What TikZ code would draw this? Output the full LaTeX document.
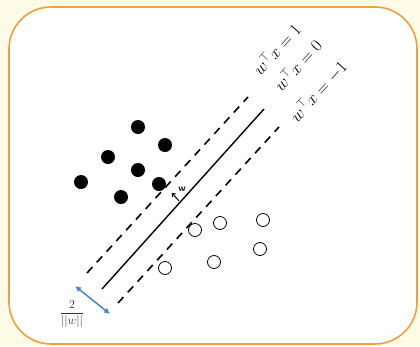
\documentclass[tikz,border=0pt]{standalone}
\usetikzlibrary{arrows.meta}
\definecolor{paper}{HTML}{FEFBE6}
\definecolor{frame}{HTML}{EE9F3E}
\definecolor{marginblue}{HTML}{4F88C6}
\definecolor{labelgray}{HTML}{333333}
\begin{document}
\begin{tikzpicture}[x=1pt,y=-1pt,
  dashline/.style={line width=1.6pt, dash pattern=on 8pt off 6.5pt},
  plane/.style={line width=1.4pt},
  posdot/.style={circle, fill=black, inner sep=0pt, minimum size=14pt},
  negdot/.style={circle, draw=black, line width=0.8pt, fill=white, inner sep=0pt, minimum size=13pt},
  eqlabel/.style={rotate=48, font=\fontsize{16.5}{18}\selectfont, inner sep=0pt}]
% page and framed panel
\fill[paper] (0,0) rectangle (420,346);
\useasboundingbox (0,0) rectangle (420,346);
\draw[frame, line width=1.6pt, fill=white, rounded corners=42pt] (9,7) rectangle (417,344);

% the three parallel hyperplanes
\coordinate (up1) at (87,273);  \coordinate (up2) at (248,97);
\coordinate (mid1) at (102,289); \coordinate (mid2) at (264,109);
\coordinate (lo1) at (118,303); \coordinate (lo2) at (279,127);
\draw[dashline] (up1) -- (up2);
\draw[plane] (mid1) -- (mid2);
\draw[dashline] (lo1) -- (lo2);

% hyperplane equations
\node[eqlabel] (eqa) at (276,49) {$w^\top x = 1$};
\node[eqlabel] (eqb) at (297,65) {$w^\top x = 0$};
\node[eqlabel] (eqc) at (318,91) {$w^\top x = -1$};

% positive class
\node[posdot] (p1) at (138,127) {};
\node[posdot] (p2) at (165,145) {};
\node[posdot] (p3) at (108,157) {};
\node[posdot] (p4) at (138,170) {};
\node[posdot] (p5) at (81,182) {};
\node[posdot] (p6) at (121,197) {};
\node[posdot] (p7) at (159,184) {};

% negative class
\node[negdot] (n1) at (195,230) {};
\node[negdot] (n2) at (220,223) {};
\node[negdot] (n3) at (263,220) {};
\node[negdot] (n4) at (260,249) {};
\node[negdot] (n5) at (214,262) {};
\node[negdot] (n6) at (165,268) {};

% normal vector
\coordinate (wbase) at (179,201);
\coordinate (wtip) at (172,193);
\draw[line width=1pt, -{To[length=3.5pt,width=5pt]}] (wbase) -- (wtip);
\node[font=\sffamily\bfseries\fontsize{10}{11}\selectfont, text=black!80!brown, inner sep=0pt] (wlab) at (182,189) {w};

% margin width
\coordinate (ma) at (75,286);
\coordinate (mb) at (110,314);
\draw[marginblue, line width=1.5pt, {Latex[length=6pt,width=6pt]}-{Latex[length=6pt,width=6pt]}] (ma) -- (mb);
\node[text=labelgray, font=\fontsize{12}{14}\selectfont, inner sep=0pt] (mlab) at (72,314) {$\displaystyle\frac{2}{||w||}$};
\end{tikzpicture}
\end{document}
